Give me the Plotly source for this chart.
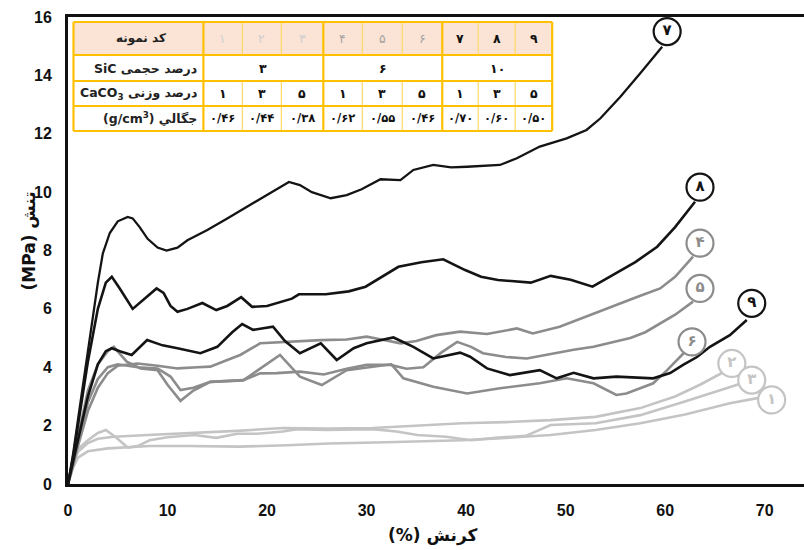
import plotly.graph_objects as go

# ---------------- data ----------------
strain_7 = [0, 0.5, 1, 2, 3, 3.5, 4.2, 5, 6, 6.5, 7.2, 8, 9, 9.9, 11, 12, 14, 16, 18, 20, 22.2, 23.3, 24.5, 26.4,
            28, 29.5, 31.4, 33.4, 34.7, 36.7, 38.5, 40.1, 42, 43.4, 45.1, 47.4, 50.1, 52.1, 53.5, 55.5, 57.5, 59.7]
stress_7 = [0, 1.0, 2.2, 4.6, 6.9, 7.9, 8.6, 9.0, 9.15, 9.1, 8.8, 8.4, 8.1, 8.0, 8.1, 8.35, 8.7, 9.1, 9.5, 9.9, 10.35,
            10.24, 10.0, 9.79, 9.9, 10.1, 10.44, 10.41, 10.76, 10.93, 10.85, 10.87, 10.9, 10.93, 11.16, 11.56, 11.84,
            12.13, 12.53, 13.27, 14.07, 14.98]

strain_8 = [0, 0.5, 1, 2, 3, 3.8, 4.4, 5.2, 6.5, 7.5, 8.9, 9.6, 10.3, 11, 12, 13.5, 14.9, 16, 17.4, 18.5, 20, 22.5,
            23.2, 25.9, 28.2, 29.9, 31.5, 33.2, 35.5, 37.7, 39.9, 41.5, 43.2, 45, 46.5, 48.5, 50.5, 52.7, 54.9, 57,
            59.2, 61, 63]
stress_8 = [0, 0.9, 2.0, 4.2, 6.0, 6.9, 7.1, 6.7, 6.0, 6.3, 6.7, 6.55, 6.1, 5.9, 6.0, 6.2, 5.96, 6.1, 6.4, 6.07, 6.1,
            6.35, 6.5, 6.5, 6.6, 6.76, 7.1, 7.44, 7.6, 7.7, 7.33, 7.1, 6.99, 6.95, 6.9, 7.13, 7.0, 6.76, 7.2, 7.6,
            8.13, 8.8, 9.67]

strain_9 = [0, 0.5, 1, 2, 3, 3.8, 4.4, 5.2, 6.4, 7.95, 9.5, 11, 13.3, 15, 16.5, 17.5, 18.6, 20.6, 21.8, 23.3, 25.4,
            27, 28.7, 30, 32.7, 34.7, 36.7, 39.4, 40.4, 42.1, 44.4, 47.4, 49.1, 50.8, 52.8, 55.1, 58.8, 60.5, 61.8,
            63.2, 64.5, 66.5, 68.2]
stress_9 = [0, 0.7, 1.5, 3.0, 4.1, 4.55, 4.65, 4.55, 4.42, 4.93, 4.75, 4.65, 4.48, 4.7, 5.2, 5.48, 5.28, 5.39, 4.9,
            4.48, 4.82, 4.25, 4.65, 4.82, 5.02, 4.7, 4.3, 4.5, 4.36, 3.96, 3.73, 3.9, 3.62, 3.81, 3.62, 3.68, 3.62,
            3.8, 4.08, 4.35, 4.7, 5.1, 5.62]

strain_4 = [0, 0.5, 1, 2, 3, 4, 5, 7, 9, 11, 13, 14.3, 16, 17.3, 19.3, 21, 22.7, 25.4, 28, 30, 31.5, 33.4, 35, 37,
            39.4, 42.1, 45.1, 46.7, 49.4, 51, 52.8, 55.5, 57.5, 59.5, 61, 62.8]
stress_4 = [0, 0.6, 1.3, 2.5, 3.3, 3.8, 4.05, 4.13, 4.05, 3.96, 4.0, 4.02, 4.25, 4.42, 4.82, 4.85, 4.87, 4.93, 4.95,
            5.05, 4.95, 4.82, 4.9, 5.1, 5.22, 5.14, 5.33, 5.16, 5.39, 5.6, 5.85, 6.2, 6.45, 6.7, 7.1, 7.79]

strain_5 = [0, 0.5, 1, 2, 3, 4, 5, 7, 9, 10.3, 11.3, 12.6, 14.3, 16, 17.6, 19.3, 21, 23.3, 25.7, 28, 30, 32.4, 34,
            35.7, 37.5, 39.1, 40.5, 41.7, 44, 46.1, 48.8, 50.8, 52.8, 54.8, 56.5, 58, 59.5, 61, 62.8]
stress_5 = [0, 0.7, 1.5, 2.8, 3.6, 4.0, 4.1, 4.0, 3.96, 3.68, 3.22, 3.3, 3.5, 3.52, 3.56, 3.79, 3.8, 3.85, 3.75,
            3.95, 4.08, 4.08, 3.95, 4.0, 4.5, 4.87, 4.7, 4.48, 4.35, 4.3, 4.48, 4.6, 4.7, 4.87, 5.0, 5.2, 5.5, 5.8,
            6.25]

strain_6 = [0, 0.5, 1, 2, 3, 4, 4.6, 5.9, 7.3, 9, 10, 11.3, 12.6, 14.3, 17.6, 19.5, 21.3, 23.3, 25.5, 28, 31, 32.5,
            33.7, 36.7, 40.1, 43.4, 47.4, 50.1, 52.8, 55.1, 56.1, 58.8, 60.2, 62]
stress_6 = [0, 0.8, 1.7, 3.2, 4.1, 4.55, 4.7, 4.19, 3.96, 3.9, 3.4, 2.85, 3.2, 3.5, 3.55, 4.0, 4.42, 3.68, 3.39, 3.9,
            4.05, 4.1, 3.62, 3.33, 3.1, 3.28, 3.45, 3.62, 3.45, 3.05, 3.1, 3.45, 3.9, 4.53]

strain_1 = [0, 0.5, 1, 2, 4, 6, 8.2, 12, 17.2, 22, 26.2, 32, 39.6, 44, 48.5, 53, 57.5, 62, 66.5, 69.4]
stress_1 = [0, 0.55, 0.9, 1.12, 1.22, 1.26, 1.3, 1.3, 1.28, 1.33, 1.39, 1.43, 1.5, 1.58, 1.68, 1.85, 2.08, 2.38, 2.77,
            2.95]

strain_2 = [0, 0.5, 1, 2, 3, 4.6, 8, 12.7, 17, 21.6, 26, 30.6, 35, 39.6, 44, 48.5, 53, 57.5, 61, 63.5, 65.8]
stress_2 = [0, 0.7, 1.1, 1.4, 1.55, 1.62, 1.68, 1.74, 1.82, 1.92, 1.9, 1.92, 2.0, 2.08, 2.12, 2.19, 2.3, 2.6, 3.0,
            3.4, 3.82]

strain_3 = [0, 0.5, 1, 2, 3, 3.8, 4.8, 6, 7, 8.2, 10, 12.7, 14.9, 17, 19, 21.6, 23, 26, 30.6, 33, 35.1, 38, 40.5, 43,
            46, 48.5, 53, 57.5, 61.9, 65, 67.4]
stress_3 = [0, 0.8, 1.2, 1.5, 1.75, 1.85, 1.6, 1.25, 1.3, 1.5, 1.6, 1.68, 1.58, 1.72, 1.72, 1.8, 1.88, 1.85, 1.88,
            1.8, 1.68, 1.62, 1.5, 1.58, 1.65, 2.02, 2.08, 2.36, 2.82, 3.15, 3.42]

label_text = ["۷", "۸", "۴", "۵", "۹", "۶", "۲", "۳", "۱"]
label_x = [60.2, 63.5, 63.5, 63.5, 68.7, 62.7, 66.7, 68.7, 70.7]
label_y = [15.5, 10.17, 8.25, 6.7, 6.19, 4.87, 4.13, 3.56, 2.88]

x_ticks = [0, 10, 20, 30, 40, 50, 60, 70]
y_ticks = [0, 2, 4, 6, 8, 10, 12, 14, 16]

table_row_labels = ["کد نمونه", "SiC درصد حجمی", "CaCO<sub>3</sub> درصد وزنی", "(g/cm<sup>3</sup>) جگالي"]
table_codes = ["۱", "۲", "۳", "۴", "۵", "۶", "۷", "۸", "۹"]
table_sic = ["۳", "۶", "۱۰"]
table_caco3 = ["۱", "۳", "۵", "۱", "۳", "۵", "۱", "۳", "۵"]
table_density = ["۰/۴۶", "۰/۴۴", "۰/۳۸", "۰/۶۲", "۰/۵۵", "۰/۴۶", "۰/۷۰", "۰/۶۰", "۰/۵۰"]

# ---------------- styles ----------------
BLACK = "#141414"
GRAY = "#8c8c8c"
LIGHT = "#c4c4c4"
series = [
    (strain_1, stress_1, LIGHT, 2.6), (strain_2, stress_2, LIGHT, 2.6), (strain_3, stress_3, LIGHT, 2.6),
    (strain_6, stress_6, GRAY, 2.6), (strain_5, stress_5, GRAY, 2.6), (strain_4, stress_4, GRAY, 2.6),
    (strain_9, stress_9, BLACK, 2.6), (strain_8, stress_8, BLACK, 2.6), (strain_7, stress_7, BLACK, 2.3),
]
label_colors = [BLACK, BLACK, GRAY, GRAY, BLACK, GRAY, LIGHT, LIGHT, LIGHT]

W, H = 804, 550
L, R, T, B = 67.5, 0, 17, 66
PW, PH = W - L - R, H - T - B
XMAX = 73.95


def px(xpix):
    return (xpix - L) / PW


def py(ypix):
    return (H - B - ypix) / PH


fig = go.Figure()
for xs, ys, col, lw in series:
    fig.add_trace(go.Scatter(x=xs, y=ys, mode="lines", line=dict(color=col, width=lw),
                             hoverinfo="skip", showlegend=False))

fig.add_trace(go.Scatter(
    x=label_x, y=label_y, mode="markers+text", text=label_text, textposition="middle center",
    marker=dict(size=27, color="white", line=dict(color=label_colors, width=2.2)),
    textfont=dict(color=label_colors, size=15, family="DejaVu Sans", weight="bold"),
    cliponaxis=False, hoverinfo="skip", showlegend=False))

# ---------------- table ----------------
GOLD = "#ffc000"
GOLD_L = "#ffd966"
col_b = [73, 203, 242, 281, 323, 362, 402, 442, 478, 515, 552]
row_b = [22, 55, 81, 106, 131]
shapes = []
shapes.append(dict(type="rect", xref="paper", yref="paper", x0=px(col_b[0]), x1=px(col_b[-1]),
                   y0=py(row_b[-1]), y1=py(row_b[0]), fillcolor="white", line=dict(width=0), layer="above"))
shapes.append(dict(type="rect", xref="paper", yref="paper", x0=px(col_b[0]), x1=px(col_b[-1]),
                   y0=py(row_b[1]), y1=py(row_b[0]), fillcolor="#fbe4d5", line=dict(width=0), layer="above"))
for i, c in enumerate(col_b):
    major = i in (0, 1, 4, 7, 10)
    if major:
        shapes.append(dict(type="line", xref="paper", yref="paper", x0=px(c), x1=px(c),
                           y0=py(row_b[-1]), y1=py(row_b[0]), line=dict(color=GOLD, width=2.2), layer="above"))
    else:
        for r0, r1 in [(row_b[0], row_b[1]), (row_b[2], row_b[4])]:
            shapes.append(dict(type="line", xref="paper", yref="paper", x0=px(c), x1=px(c),
                               y0=py(r1), y1=py(r0), line=dict(color=GOLD_L, width=1.2), layer="above"))
for r in row_b:
    shapes.append(dict(type="line", xref="paper", yref="paper", x0=px(col_b[0]), x1=px(col_b[-1]),
                       y0=py(r), y1=py(r), line=dict(color=GOLD, width=2.2), layer="above"))

ann = []
AF = "DejaVu Sans"


def note(xpix, ypix, text, size, color="#111", weight="bold", xanchor="center", angle=0):
    ann.append(dict(xref="paper", yref="paper", x=px(xpix), y=py(ypix), text=text, showarrow=False,
                    xanchor=xanchor, yanchor="middle", textangle=angle,
                    font=dict(family=AF, size=size, color=color, weight=weight)))


rc = [(row_b[i] + row_b[i + 1]) / 2 for i in range(4)]
note(141, rc[0], table_row_labels[0], 12, "#222")
for k in range(1, 4):
    note(199, rc[k], table_row_labels[k], 12.5, "#222", xanchor="right")
code_cols = ["#cfcfcf"] * 3 + ["#a3a3a3"] * 3 + ["#111"] * 3
for j in range(9):
    cx = (col_b[j + 1] + col_b[j + 2]) / 2
    note(cx, rc[0], table_codes[j], 12.5, code_cols[j], "bold" if j >= 6 else "normal")
    note(cx, rc[2], table_caco3[j], 12.5)
    note(cx, rc[3], table_density[j], 11.5)
for g in range(3):
    cx = (col_b[1 + 3 * g] + col_b[4 + 3 * g]) / 2
    note(cx, rc[1], table_sic[g], 12.5)

# axis titles
note(432, 535, "(%) کرنش", 17)
note(28, 241, "(MPa) تنش", 17, angle=-90)

tickfont = dict(family="Liberation Sans", size=16, color="#111", weight="bold")
fig.update_layout(
    width=W, height=H, margin=dict(l=L, r=R, t=T, b=B), paper_bgcolor="white", plot_bgcolor="white",
    showlegend=False, shapes=shapes, annotations=ann,
    xaxis=dict(range=[0, XMAX], tickvals=x_ticks, showgrid=False, zeroline=False, showline=True, linewidth=3,
               linecolor="#111", mirror=True, ticks="", tickfont=tickfont, ticklabelstandoff=10),
    yaxis=dict(range=[0, 16], tickvals=y_ticks, showgrid=False, zeroline=False, showline=True, linewidth=3,
               linecolor="#111", ticks="", tickfont=tickfont, ticklabelstandoff=10),
)
fig.write_html("out.html")
